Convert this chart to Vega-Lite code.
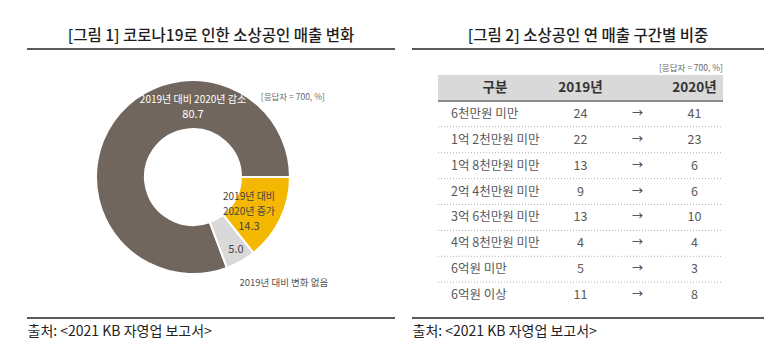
{
  "$schema": "https://vega.github.io/schema/vega-lite/v6.json",
  "background": "white",
  "padding": {"left": 26, "top": 27, "right": 17, "bottom": 8},
  "spacing": 17,
  "bounds": "flush",
  "config": {
    "font": "Noto Sans CJK KR",
    "view": {"stroke": null},
    "axis": {"domain": false, "ticks": false, "labels": false, "grid": false},
    "axisX": {"titleAnchor": "start", "titleAlign": "left", "titleFontSize": 14, "titleFontWeight": "normal", "titleColor": "#222222", "titlePadding": 6, "titleBaseline": "top"},
    "title": {"fontSize": 15.5, "fontWeight": 500, "color": "#1e1e1e", "offset": 5}
  },
  "datasets": {
    "donut": [
      {"구분": "2019년 대비 2020년 감소", "value": 80.7},
      {"구분": "2019년 대비 2020년 증가", "value": 14.3},
      {"구분": "2019년 대비 변화 없음", "value": 5.0}
    ],
    "table": [
      {"구간": "6천만원 미만", "y2019": 24, "y2020": 41},
      {"구간": "1억 2천만원 미만", "y2019": 22, "y2020": 23},
      {"구간": "1억 8천만원 미만", "y2019": 13, "y2020": 6},
      {"구간": "2억 4천만원 미만", "y2019": 9, "y2020": 6},
      {"구간": "3억 6천만원 미만", "y2019": 13, "y2020": 10},
      {"구간": "4억 8천만원 미만", "y2019": 4, "y2020": 4},
      {"구간": "6억원 미만", "y2019": 5, "y2020": 3},
      {"구간": "6억원 이상", "y2019": 11, "y2020": 8}
    ],
    "header": [{"col": "구분"}, {"col": "2019년"}, {"col": "2020년"}]
  },
  "hconcat": [
    {
      "width": 368,
      "height": 269,
      "title": {"text": "[그림 1] 코로나19로 인한 소상공인 매출 변화"},
      "view": {"stroke": "#5a5a5a", "strokeWidth": 2, "strokeDash": [368, 269, 368, 269]},
      "data": {"name": "donut"},
      "encoding": {
        "x": {"datum": "c", "type": "nominal", "scale": {"type": "point", "padding": 0.5, "align": 0.451}, "axis": {"title": "출처: <2021 KB 자영업 보고서>"}},
        "y": {"datum": "c", "type": "nominal", "scale": {"type": "point", "padding": 0.5, "align": 0.476}, "axis": null}
      },
      "layer": [
        {
          "mark": {"type": "arc", "innerRadius": 48, "outerRadius": 97, "stroke": "white", "strokeWidth": 2},
          "encoding": {
            "theta": {"field": "value", "type": "quantitative", "stack": true, "scale": {"range": [2.7838, 9.067]}},
            "color": {"field": "구분", "type": "nominal", "legend": null,
              "scale": {"domain": ["2019년 대비 2020년 감소", "2019년 대비 2020년 증가", "2019년 대비 변화 없음"], "range": ["#71665d", "#f5b800", "#d9d9d9"]}},
            "order": {"field": "구분", "sort": "ascending"}
          }
        },
        {
          "transform": [{"filter": "datum['구분'] === '2019년 대비 2020년 감소'"}],
          "mark": {"type": "text", "radius": 77, "fontSize": 10, "color": "white"},
          "encoding": {"theta": {"datum": 55.7}, "text": {"field": "구분"}}
        },
        {
          "transform": [{"filter": "datum['구분'] === '2019년 대비 2020년 감소'"}],
          "mark": {"type": "text", "radius": 62, "fontSize": 11, "color": "white"},
          "encoding": {"theta": {"datum": 55.7}, "text": {"field": "value", "format": ".1f"}}
        },
        {
          "transform": [{"filter": "datum['구분'] === '2019년 대비 2020년 증가'"}],
          "mark": {"type": "text", "radius": 59.5, "fontSize": 10, "color": "#444444", "lineHeight": 15, "lineBreak": {"expr": "regexp(' (?=2020)')"}},
          "encoding": {"theta": {"datum": 86.15}, "text": {"field": "구분"}}
        },
        {
          "transform": [{"filter": "datum['구분'] === '2019년 대비 2020년 증가'"}],
          "mark": {"type": "text", "radius": 75, "fontSize": 11, "color": "#444444"},
          "encoding": {"theta": {"datum": 92.31}, "text": {"field": "value", "format": ".1f"}}
        },
        {
          "transform": [{"filter": "datum['구분'] === '2019년 대비 변화 없음'"}],
          "mark": {"type": "text", "radius": 84.7, "fontSize": 11, "color": "#444444"},
          "encoding": {"theta": {"datum": 97.22}, "text": {"field": "value", "format": ".1f"}}
        },
        {
          "transform": [{"filter": "datum['구분'] === '2019년 대비 변화 없음'"}],
          "mark": {"type": "text", "radius": 139.7, "fontSize": 9.5, "color": "#555555"},
          "encoding": {"theta": {"datum": 94.42}, "text": {"field": "구분"}}
        },
        {
          "data": {"values": [{"note": "[응답자 = 700, %]"}]},
          "mark": {"type": "text", "radius": 128, "fontSize": 8.5, "color": "#666666"},
          "encoding": {"theta": {"datum": 69.94}, "text": {"field": "note"}}
        }
      ]
    },
    {
      "width": 352,
      "height": 269,
      "title": {"text": "[그림 2] 소상공인 연 매출 구간별 비중"},
      "view": {"stroke": "#5a5a5a", "strokeWidth": 2, "strokeDash": [352, 269, 352, 269]},
      "data": {"name": "table"},
      "layer": [
        {
          "data": {"name": "header"},
          "transform": [{"filter": "datum.col === '구분'"}],
          "mark": {"type": "rect", "color": "#d9d9d9"},
          "encoding": {
            "x": {"datum": "구분", "type": "nominal", "bandPosition": 0,
              "scale": {"type": "band", "domain": ["구분", "_", "2019년", "→", "2020년"], "paddingInner": 0, "paddingOuter": 0.588, "align": 0.388},
              "axis": {"title": "출처: <2021 KB 자영업 보고서>"}},
            "x2": {"datum": "2020년", "bandPosition": 1},
            "y": {"datum": "구분", "type": "nominal", "axis": null,
              "scale": {"type": "band", "domain": ["구분", "6천만원 미만", "1억 2천만원 미만", "1억 8천만원 미만", "2억 4천만원 미만", "3억 6천만원 미만", "4억 8천만원 미만", "6억원 미만", "6억원 이상"], "paddingInner": 0, "paddingOuter": 0.693, "align": 0.724}}
          }
        },
        {
          "mark": {"type": "rule"},
          "encoding": {
            "x": {"datum": "구분", "type": "nominal", "bandPosition": 0},
            "x2": {"datum": "2020년", "bandPosition": 1},
            "y": {"field": "구간", "type": "nominal", "bandPosition": 0, "axis": null},
            "stroke": {"condition": {"test": "datum['구간'] === '6천만원 미만'", "value": "#8c8c8c"}, "value": "#b0b0b0"},
            "strokeWidth": {"condition": {"test": "datum['구간'] === '6천만원 미만'", "value": 2}, "value": 1},
            "strokeDash": {"condition": {"test": "datum['구간'] === '6천만원 미만'", "value": [1, 0]}, "value": [1, 2]}
          }
        },
        {
          "mark": {"type": "text", "align": "left", "dx": 13, "fontSize": 12.5, "color": "#595959"},
          "encoding": {
            "x": {"datum": "구분", "type": "nominal", "bandPosition": 0},
            "y": {"field": "구간", "type": "nominal", "axis": null},
            "text": {"field": "구간"}
          }
        },
        {
          "mark": {"type": "text", "fontSize": 12.5, "color": "#595959"},
          "encoding": {
            "x": {"datum": "2019년", "type": "nominal"},
            "y": {"field": "구간", "type": "nominal", "axis": null},
            "text": {"field": "y2019"}
          }
        },
        {
          "mark": {"type": "text", "fontSize": 11, "color": "#333333"},
          "encoding": {
            "x": {"datum": "→", "type": "nominal"},
            "y": {"field": "구간", "type": "nominal", "axis": null},
            "text": {"value": "→"}
          }
        },
        {
          "mark": {"type": "text", "fontSize": 12.5, "color": "#595959"},
          "encoding": {
            "x": {"datum": "2020년", "type": "nominal"},
            "y": {"field": "구간", "type": "nominal", "axis": null},
            "text": {"field": "y2020"}
          }
        },
        {
          "data": {"name": "header"},
          "transform": [{"filter": "datum.col === '구분'"}],
          "mark": {"type": "text", "fontSize": 13.5, "fontWeight": "bold", "color": "#333333"},
          "encoding": {
            "x": {"datum": "구분", "type": "nominal", "bandPosition": 1},
            "y": {"datum": "구분", "type": "nominal", "axis": null},
            "text": {"field": "col"}
          }
        },
        {
          "data": {"name": "header"},
          "transform": [{"filter": "datum.col !== '구분'"}],
          "mark": {"type": "text", "fontSize": 13.5, "fontWeight": "bold", "color": "#333333"},
          "encoding": {
            "x": {"field": "col", "type": "nominal"},
            "y": {"datum": "구분", "type": "nominal", "axis": null},
            "text": {"field": "col"}
          }
        },
        {
          "data": {"values": [{"note": "[응답자 = 700, %]"}]},
          "mark": {"type": "text", "align": "right", "baseline": "bottom", "dy": -2, "fontSize": 8.5, "color": "#666666"},
          "encoding": {
            "x": {"datum": "2020년", "type": "nominal", "bandPosition": 1},
            "y": {"datum": "구분", "type": "nominal", "bandPosition": 0, "axis": null},
            "text": {"field": "note"}
          }
        }
      ]
    }
  ]
}
